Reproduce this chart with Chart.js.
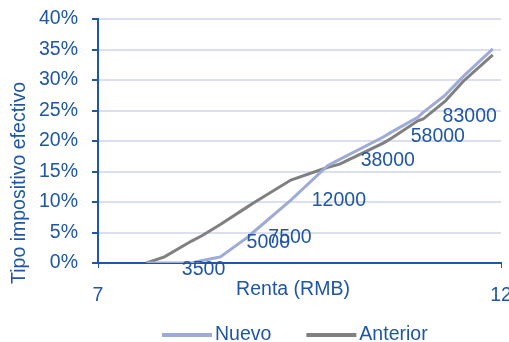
<!DOCTYPE html>
<html>
<head>
<meta charset="utf-8">
<script src="https://cdn.jsdelivr.net/npm/chart.js@4/dist/chart.umd.min.js"></script>
<style>
  html, body { margin: 0; padding: 0; background: #fff; }
  #wrap { width: 509px; height: 342px; }
</style>
</head>
<body>
<div id="wrap"><canvas id="chart"></canvas></div>
<script>
// renta mensual (RMB), eje x en logaritmo natural
var renta = [2000, 2500, 3500, 4000, 5000, 7000, 7500, 12000, 19000, 22000, 38000, 42000, 58000, 62000, 82000, 83000, 102000, 147000]
// tipo impositivo efectivo (%)
var nuevo = [0, 0, 0, 0.4, 1.0, 4.2, 5.0, 10.3, 16.0, 17.0, 20.7, 21.5, 23.9, 24.7, 27.6, 27.8, 30.6, 35.1]
var anterior = [0, 1.0, 3.6, 4.5, 6.3, 9.2, 9.8, 13.6, 15.7, 16.2, 19.7, 20.5, 23.3, 23.6, 26.6, 26.8, 29.8, 34.1]
// puntos etiquetados en la serie Nuevo
var etiquetas = [3500, 5000, 7500, 12000, 38000, 58000, 83000]
var xTicks = [7, 12]
var yTicks = [0, 5, 10, 15, 20, 25, 30, 35, 40]

var AZUL = '#1f56a6'
var FONT = '"Liberation Sans", Arial, sans-serif'
var FSIZE = 19.5

function points(vals){
    return renta.map(function(r, i){ return {x: Math.log(r), y: vals[i]} })
}

// label offsets (px) from each labelled point, as in the original
var labelOffsets = [[12, 7], [48, -14], [37, 5], [48, 0], [4, 24], [20, 19], [23, 23]]

var extras = {
    id: 'extras',
    afterDraw: function(chart){
        var c = chart.ctx
        var xs = chart.scales.x, ys = chart.scales.y
        c.save()
        c.fillStyle = AZUL
        c.font = FSIZE + 'px ' + FONT
        c.textAlign = 'center'
        c.textBaseline = 'middle'

        // data labels
        etiquetas.forEach(function(v, k){
            var i = renta.indexOf(v)
            var px = xs.getPixelForValue(Math.log(renta[i]))
            var py = ys.getPixelForValue(nuevo[i])
            c.fillText(String(v), px + labelOffsets[k][0], py + labelOffsets[k][1])
        })

        // x tick labels
        xTicks.forEach(function(t){
            c.fillText(String(t), xs.getPixelForValue(t), 296)
        })

        // axis titles
        c.fillText('Renta (RMB)', 293, 290)
        c.save()
        c.translate(20, 183)
        c.rotate(-Math.PI / 2)
        c.fillText('Tipo impositivo efectivo', 0, 0)
        c.restore()

        // legend
        var lx = 162, ly = 335
        c.textAlign = 'left'
        chart.data.datasets.forEach(function(ds){
            c.strokeStyle = ds.borderColor
            c.lineWidth = 4
            c.beginPath()
            c.moveTo(lx, ly)
            c.lineTo(lx + 50, ly)
            c.stroke()
            c.fillStyle = AZUL
            c.fillText(ds.label, lx + 53, ly)
            lx += 53 + c.measureText(ds.label).width + 35
        })
        c.restore()
    }
}

new Chart(document.getElementById('chart').getContext('2d'), {
    type: 'line',
    data: {
        datasets: [{
            label: 'Nuevo',
            data: points(nuevo),
            borderColor: '#9eabd6',
            backgroundColor: '#9eabd6',
            borderWidth: 3,
            pointRadius: 0,
            tension: 0
        }, {
            label: 'Anterior',
            data: points(anterior),
            borderColor: '#808080',
            backgroundColor: '#808080',
            borderWidth: 3,
            pointRadius: 0,
            tension: 0
        }]
    },
    options: {
        responsive: true,
        maintainAspectRatio: false,
        animation: false,
        layout: {padding: {left: 25, right: 8, top: 19, bottom: 74}},
        plugins: {
            legend: {display: false},
            tooltip: {enabled: false}
        },
        scales: {
            x: {
                type: 'linear',
                min: xTicks[0],
                max: xTicks[1],
                afterBuildTicks: function(axis){
                    axis.ticks = xTicks.map(function(v){ return {value: v} })
                },
                ticks: {display: false},
                grid: {drawOnChartArea: false, drawTicks: true, tickLength: 5, tickColor: AZUL},
                border: {color: AZUL, width: 2}
            },
            y: {
                min: 0,
                max: 40,
                afterBuildTicks: function(axis){
                    axis.ticks = yTicks.map(function(v){ return {value: v} })
                },
                afterFit: function(axis){
                    // labels may overhang the plot area, as in the original
                    axis.paddingTop = 0
                    axis.paddingBottom = 0
                },
                ticks: {
                    color: AZUL,
                    font: {family: FONT, size: FSIZE},
                    padding: 14,
                    callback: function(v){ return v + '%' }
                },
                grid: {color: '#dcdff0', lineWidth: 2, tickLength: 6, tickColor: AZUL},
                border: {color: AZUL, width: 2}
            }
        }
    },
    plugins: [extras]
});
</script>
</body>
</html>
